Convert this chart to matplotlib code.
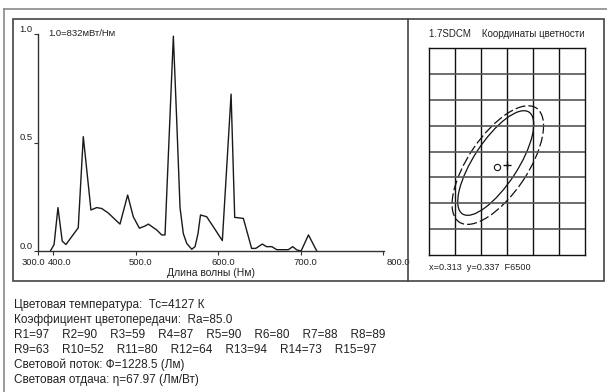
import matplotlib
matplotlib.use("Agg")
import matplotlib.pyplot as plt
from matplotlib.patches import Ellipse, Rectangle
from matplotlib.lines import Line2D
import matplotlib.transforms as mtransforms

plt.rcParams['font.family'] = ['Liberation Sans', 'DejaVu Sans']

# spectrum, relative units (1.0 = 832 mW/nm)
wavelength = [396.5, 401, 405.7, 410.9, 415.4, 430.3, 436.4, 445.7, 452.6, 458.7,
              466.7, 480.9, 490.2, 497, 504.4, 511.2, 515.3, 525.4, 531.5, 535.5,
              545.6, 549.7, 553.7, 557.7, 561.8, 567.9, 571.9, 575.5, 578.5, 586,
              594, 605, 615.6, 620, 630.5, 640.5, 645.5, 653.5, 658.5, 665,
              671, 685, 690.3, 695.3, 700.5, 709.4, 719.5]
intensity = [0, 0.03, 0.2, 0.045, 0.03, 0.107, 0.527, 0.189, 0.2, 0.196,
             0.175, 0.124, 0.258, 0.158, 0.105, 0.115, 0.124, 0.097, 0.074, 0.074,
             0.99, 0.6, 0.2, 0.08, 0.035, 0.008, 0.02, 0.08, 0.166, 0.158,
             0.112, 0.048, 0.723, 0.155, 0.15, 0.012, 0.012, 0.032, 0.02, 0.02,
             0.006, 0.006, 0.02, 0.005, 0.0, 0.074, 0.0]

x_ticks = [381.5, 400, 500, 600, 700, 800]
x_tick_labels = ["300.0", "400.0", "500.0", "600.0", "700.0", "800.0"]
y_ticks = [0.0, 0.5, 1.0]
y_tick_labels = ["0.0", "0.5", "1.0"]

# chromaticity panel
chroma_x, chroma_y = 0.313, 0.337
ref_x, ref_y = 0.315, 0.3375
grid_x = [0.300, 0.305, 0.310, 0.315, 0.320, 0.325, 0.330]
grid_y = [0.320, 0.325, 0.330, 0.335, 0.340, 0.345, 0.350, 0.355, 0.360]

info_lines = [
    "Цветовая температура:  Тс=4127 К",
    "Коэффициент цветопередачи:  Ra=85.0",
    "R1=97    R2=90    R3=59    R4=87    R5=90    R6=80    R7=88    R8=89",
    "R9=63    R10=52    R11=80    R12=64    R13=94    R14=73    R15=97",
    "Световой поток: Ф=1228.5 (Лм)",
    "Световая отдача: η=67.97 (Лм/Вт)",
]

W, H = 607, 392
fig = plt.figure(figsize=(W / 100, H / 100), dpi=100)


def fx(x):
    return x / W


def fy(y):
    return 1 - y / H


def box(x0, y0, x1, y1):
    return [fx(x0), fy(y1), fx(x1) - fx(x0), fy(y0) - fy(y1)]


# frames
fig.add_artist(Line2D([fx(4), fx(607)], [fy(9), fy(9)], color="#8a8a8a", lw=1.2))
fig.add_artist(Line2D([fx(4), fx(4)], [fy(9), fy(392)], color="#8a8a8a", lw=1.2))
fig.add_artist(Rectangle((fx(13), fy(281)), fx(603.5) - fx(13), fy(19) - fy(281),
                         fill=False, edgecolor="#444444", lw=1.2))
fig.add_artist(Line2D([fx(408), fx(408)], [fy(19), fy(281)], color="#444444", lw=1.2))

# spectrum
ax = fig.add_axes(box(38, 34, 384, 251))
ax.plot(wavelength, intensity, color="#1a1a1a", lw=1.0)
ax.set_xlim(381.5, 801)
ax.set_ylim(0, 1.0)
for s in ["top", "right"]:
    ax.spines[s].set_visible(False)
for s in ["left", "bottom"]:
    ax.spines[s].set_color("#333333")
    ax.spines[s].set_linewidth(1.0)
ax.set_xticks(x_ticks)
ax.set_xticklabels(x_tick_labels)
ax.set_yticks(y_ticks)
ax.set_yticklabels(y_tick_labels)
ax.tick_params(axis="both", labelsize=6.8, colors="#333333", length=3, width=0.8,
               labelcolor="#222222")
ax.tick_params(axis="x", pad=2)
ax.tick_params(axis="y", pad=1)
offsets = [-5, 6, 5, 5, 5, 15]
for lab, off in zip(ax.get_xticklabels(), offsets):
    lab.set_transform(lab.get_transform() +
                      mtransforms.ScaledTranslation(off / 100, 0, fig.dpi_scale_trans))
for lab in ax.get_yticklabels():
    lab.set_verticalalignment("bottom")
ax.set_xlabel("Длина волны (Нм)", fontsize=7.5, labelpad=1, color="#222222")
fig.text(fx(48), fy(33), "1.0=832мВт/Нм", fontsize=6.8, va="center", color="#222222")

# chromaticity grid
cx = fig.add_axes(box(429.3, 48.3, 585, 255))
cx.set_xlim(grid_x[0], grid_x[-1])
cx.set_ylim(grid_y[0], grid_y[-1])
for v in grid_x[1:-1]:
    cx.axvline(v, color="#111111", lw=1.0)
for v in grid_y[1:-1]:
    cx.axhline(v, color="#555555", lw=1.2)
for s in cx.spines.values():
    s.set_color("#111111")
    s.set_linewidth(1.0)
cx.set_xticks([])
cx.set_yticks([])
cx.add_patch(Ellipse((0.3128, 0.3378), 0.0235, 0.0085, angle=57,
                     fill=False, edgecolor="#111111", lw=0.9))
cx.add_patch(Ellipse((0.3132, 0.3374), 0.0266, 0.0114, angle=56,
                     fill=False, edgecolor="#111111", lw=0.9, linestyle=(0, (8, 2.5))))
cx.plot([chroma_x], [chroma_y], marker="o", ms=4.5, mfc="white", mec="#111111", mew=0.8)
cx.plot([ref_x], [ref_y], marker="+", ms=6, mec="#111111", mew=1.0)

fig.text(fx(429), fy(34), "1.7SDCM    Координаты цветности", fontsize=7,
         va="center", color="#222222")
fig.text(fx(429), fy(268), "x=%.3f  y=%.3f  F6500" % (chroma_x, chroma_y),
         fontsize=6.6, va="center", color="#222222")

# text block
for i, line in enumerate(info_lines):
    fig.text(fx(14), fy(305 + 15 * i), line, fontsize=8.5, va="center", color="#222222")

fig.savefig("out.png", dpi=100)
